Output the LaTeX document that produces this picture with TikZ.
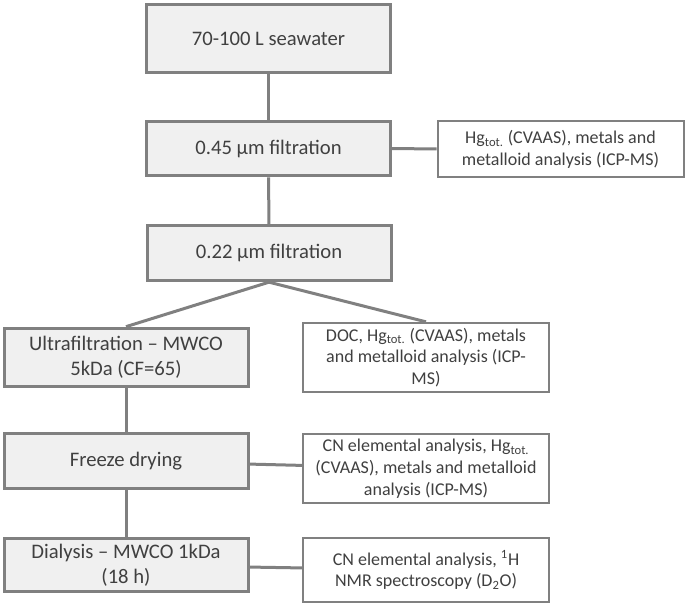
\documentclass[tikz,border=0pt]{standalone}
\usepackage{fontspec}
\setmainfont{Carlito}
\usetikzlibrary{calc}
\definecolor{boxgray}{HTML}{F0F0F0}
\definecolor{linegray}{HTML}{808080}
\definecolor{textgray}{HTML}{404040}

\begin{document}
\begin{tikzpicture}[x=0.75pt,y=-0.75pt,
	stepbox/.style={draw=linegray,line width=2.25pt,fill=boxgray,text=textgray,align=center,
		font=\fontsize{15.5}{19}\selectfont,inner sep=1pt,minimum width=183pt},
	resultbox/.style={draw=linegray,line width=1.5pt,fill=white,text=textgray,align=center,
		font=\fontsize{13.5}{16.3}\selectfont,inner sep=1pt,minimum width=184.5pt},
	link/.style={draw=linegray,line width=2.25pt}]
					%\draw[help lines] (0,0) grid (685,610);
					\useasboundingbox (0,0) rectangle (685,610);
					%STEPS
					\node[stepbox,minimum height=51pt] (sea) at (268.5,38.5) {70-100 L seawater};
					\node[stepbox,minimum height=41pt] (f045) at (268.5,148.5) {0.45 µm filtration};
					\node[stepbox,minimum height=41.5pt] (f022) at (269,253) {0.22 µm filtration};
					\node[stepbox,minimum height=44pt] (ultra) at (126,357.5) {Ultrafiltration – MWCO\\5kDa (CF=65)};
					\node[stepbox,minimum height=41.5pt] (freeze) at (126,461) {Freeze drying};
					\node[stepbox,minimum height=40pt] (dial) at (126,565) {Dialysis – MWCO 1kDa\\(18 h)};
					%ANALYSES
					\node[resultbox,minimum height=42pt] (hg) at (560.5,149) {Hg\textsubscript{tot.} (CVAAS), metals and\\metalloid analysis (ICP-MS)};
					\node[resultbox,minimum height=52pt] (doc) at (426,357.5) {DOC, Hg\textsubscript{tot.} (CVAAS), metals\\and metalloid analysis (ICP-\\MS)};
					\node[resultbox,minimum height=52pt] (cnA) at (426,468.5) {CN elemental analysis, Hg\textsubscript{tot.}\\(CVAAS), metals and metalloid\\analysis (ICP-MS)};
					\node[resultbox,minimum height=48pt] (cnB) at (426,570) {CN elemental analysis, \textsuperscript{1}H\\NMR spectroscopy (D\textsubscript{2}O)};
					%LINKS
					\draw[link] (sea) -- (f045);
					\draw[link] (f045) -- (hg);
					\draw[link] (f045) -- (f022);
					\draw[link] (f022.south) -- (ultra.north);
					\draw[link] (f022.south) -- (doc.north);
					\draw[link] (ultra) -- (freeze);
					\draw[link] (freeze) -- (cnA);
					\draw[link] (freeze) -- (dial);
					\draw[link] (dial) -- (cnB);
\end{tikzpicture}
\end{document}
